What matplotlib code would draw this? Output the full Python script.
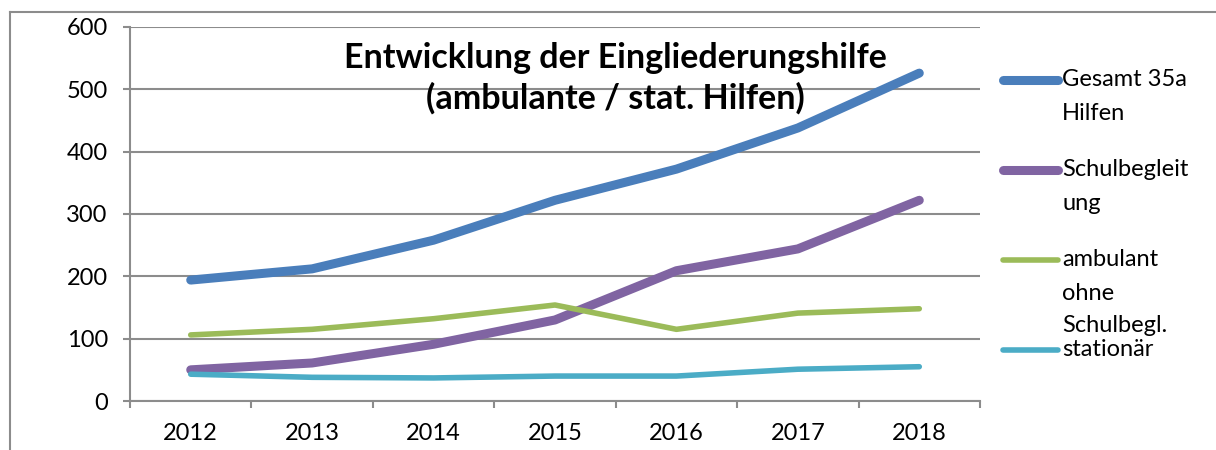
import matplotlib
matplotlib.use("Agg")
import matplotlib.pyplot as plt
from matplotlib.lines import Line2D

years = ["2012", "2013", "2014", "2015", "2016", "2017", "2018"]
gesamt = [194, 212, 258, 322, 372, 438, 526]
schulbegleitung = [50, 61, 91, 130, 209, 244, 322]
ambulant = [106, 115, 132, 154, 115, 141, 148]
stationaer = [43, 38, 37, 40, 40, 51, 55]
series_labels = ["Gesamt 35a\nHilfen", "Schulbegleit\nung", "ambulant\nohne\nSchulbegl.", "stationär"]
y_ticks = [0, 100, 200, 300, 400, 500, 600]
title = "Entwicklung der Eingliederungshilfe\n(ambulante / stat. Hilfen)"

colors = ["#4A7EBB", "#8064A2", "#9BBB59", "#4BACC6"]
widths = [6.5, 6.5, 4.0, 4.0]
FONT = "Lato"
plt.rcParams["font.family"] = [FONT, "DejaVu Sans"]

W, H = 1216, 450
fig = plt.figure(figsize=(W / 100, H / 100), dpi=100)
ax = fig.add_axes([130 / W, 1 - 401 / H, 850 / W, 374 / H])

x = list(range(len(years)))
data = [gesamt, schulbegleitung, ambulant, stationaer]
for vals, c, lw in zip(data, colors, widths):
    ax.plot(x, vals, color=c, lw=lw, solid_capstyle="round", solid_joinstyle="round", zorder=3)

grid_c = "#8C8C8C"
ax.set_ylim(0, 600)
ax.set_yticks(y_ticks)
ax.set_yticklabels([str(v) for v in y_ticks])
ax.yaxis.grid(True, color=grid_c, lw=1.5, zorder=1)
ax.set_xlim(-0.5, len(years) - 0.5)
ax.set_xticks([i - 0.5 for i in range(len(years) + 1)])
ax.set_xticklabels([""] * (len(years) + 1))
ax.set_xticks(x, minor=True)
ax.set_xticklabels(years, minor=True)
ax.tick_params(axis="x", which="major", length=5, width=1.5, color=grid_c, direction="out")
ax.tick_params(axis="x", which="minor", length=0, pad=16, labelsize=17)
ax.tick_params(axis="y", length=5, width=1.5, color=grid_c, pad=11, labelsize=17)
for s in ["top", "right"]:
    ax.spines[s].set_visible(False)
for s in ["left", "bottom"]:
    ax.spines[s].set_color(grid_c)
    ax.spines[s].set_linewidth(1.5)

# title
fig.text(615 / W, 1 - 78 / H, title, ha="center", va="center", fontsize=24.5,
         fontweight="bold", linespacing=1.3)

# legend (manual)
leg_y0 = 80
leg_dy = 90
line_dy = 33
for i, (lab, c, lw) in enumerate(zip(series_labels, colors, widths)):
    yy = leg_y0 + i * leg_dy
    fig.add_artist(Line2D([1003 / W, 1058 / W], [1 - yy / H, 1 - yy / H], color=c, lw=lw,
                          solid_capstyle="round", transform=fig.transFigure))
    for k, part in enumerate(lab.split("\n")):
        fig.text(1062 / W, 1 - (yy + k * line_dy) / H, part, ha="left", va="center", fontsize=17)

# frame
fig.add_artist(Line2D([10 / W, 1], [1 - 12 / H, 1 - 12 / H], color=grid_c, lw=1.5, transform=fig.transFigure))
fig.add_artist(Line2D([10 / W, 10 / W], [0, 1 - 12 / H], color=grid_c, lw=1.5, transform=fig.transFigure))

fig.savefig("out.png", dpi=100)
